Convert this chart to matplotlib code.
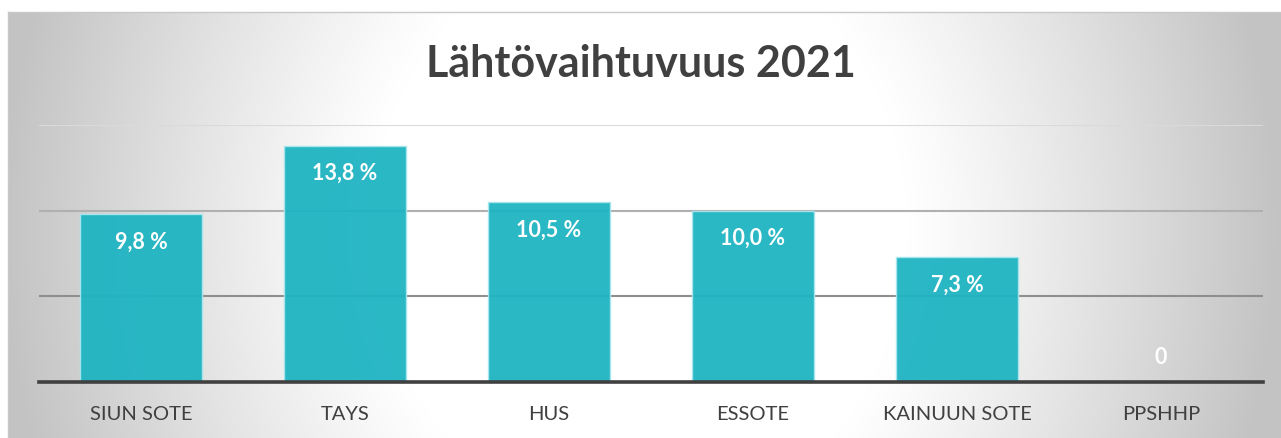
import numpy as np
import matplotlib
matplotlib.use("Agg")
import matplotlib.pyplot as plt

categories = ["SIUN SOTE", "TAYS", "HUS", "ESSOTE", "KAINUUN SOTE", "PPSHHP"]
values = [9.8, 13.8, 10.5, 10.0, 7.3, 0.0]
title = "Lähtövaihtuvuus 2021"
gridlines = [5, 10, 15]

FONT = "Lato"
W, H = 1281, 438
fig = plt.figure(figsize=(W / 100, H / 100), dpi=100)
fig.patch.set_facecolor("white")

# background radial gradient (chart area)
bx0, by_top = 8, 12
bg = fig.add_axes([bx0 / W, 0, 1 - bx0 / W, (H - by_top) / H])
nx, ny = 640, 220
xs = np.linspace(bx0, W, nx)
ys = np.linspace(by_top, H, ny)
X, Y = np.meshgrid(xs, ys)
d = np.sqrt(((X - 640) / 640) ** 2 + ((Y - 230) / 720) ** 2)
t = np.clip((d - 0.42) / (1.0 - 0.42), 0, 1)
val = 1.0 - 0.235 * t ** 1.1
img = np.dstack([val, val, val])
bg.imshow(img, aspect="auto", extent=[0, 1, 0, 1], interpolation="bilinear")
bg.set_xlim(0, 1)
bg.set_ylim(0, 1)
bg.set_xticks([])
bg.set_yticks([])
for s in bg.spines.values():
    s.set_color("#c8c8c8")
    s.set_linewidth(1.0)
bg.spines["right"].set_visible(False)
bg.spines["bottom"].set_visible(False)

# plot axes
left, right, top, base = 39, 1263, 125, 382
ax = fig.add_axes([left / W, (H - base) / H, (right - left) / W, (base - top) / H])
ax.patch.set_alpha(0)
x = np.arange(len(categories))
ax.set_xlim(-0.5, len(categories) - 0.5)
ax.set_ylim(0, 15)

grid_colors = {5: "#8e8e8e", 10: "#b0b0b0", 15: "#dadada"}
for g in gridlines:
    ax.axhline(g, color=grid_colors[g], lw=1.5, zorder=1)

bars = ax.bar(x, values, width=0.6, color="#1fb4c2", alpha=0.95,
              edgecolor="#a8e6ec", linewidth=1.0, zorder=2)

for xi, v in zip(x, values):
    if v == 0:
        label = "0"
        ax.annotate(label, (xi, v), xytext=(0, 18), textcoords="offset points",
                    ha="center", va="center", color="white", fontsize=15.5,
                    fontweight="bold", family=FONT, zorder=4)
    else:
        label = f"{v:.1f}".replace(".", ",") + " %"
        ax.annotate(label, (xi, v), xytext=(0, -20), textcoords="offset points",
                    ha="center", va="center", color="white", fontsize=15.5,
                    fontweight="bold", family=FONT, zorder=4)

for s in ["top", "right", "left"]:
    ax.spines[s].set_visible(False)
ax.spines["bottom"].set_color("#404040")
ax.spines["bottom"].set_linewidth(2.6)
ax.spines["bottom"].set_zorder(5)
ax.set_yticks([])
ax.set_xticks(x)
ax.set_xticklabels(categories, fontsize=14.5, color="#404040", family=FONT)
ax.tick_params(axis="x", length=0, pad=17.5)

fig.text(0.5, (H - 64) / H, title, ha="center", va="center", fontsize=31,
         fontweight="bold", color="#404040", family=FONT)

fig.savefig("out.png", dpi=100)
